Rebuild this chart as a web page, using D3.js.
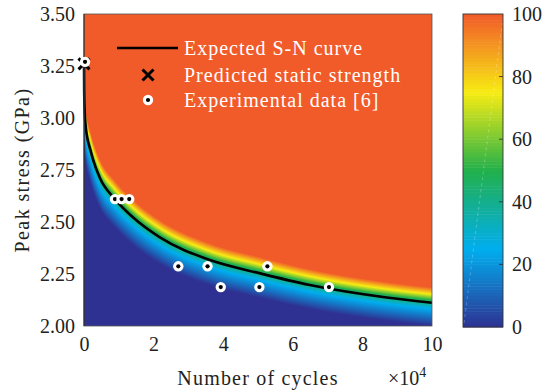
<!DOCTYPE html>
<html>
<head>
<meta charset="utf-8">
<script src="https://cdn.jsdelivr.net/npm/d3@7"></script>
<style>
  html, body { margin: 0; padding: 0; background: #fff; }
  svg { display: block; font-family: "Liberation Serif", "Times New Roman", serif; }
</style>
</head>
<body>
<div id="chart"></div>
<script>
// Expected S-N curve: cycles (x10^4) and peak stress (GPa)
const curveCycles = [0, 0.005, 0.02, 0.05, 0.10, 0.17, 0.26, 0.46, 0.89, 1.42, 2.18, 3.62, 5.06, 6.49, 8.70, 10.0];
const curveStress = [3.26, 3.13, 3.03, 2.96, 2.90, 2.855, 2.80, 2.71, 2.61, 2.52, 2.426, 2.317, 2.253, 2.197, 2.137, 2.112];

// Predicted static strength
const staticCycles = [0];
const staticStress = [3.26];

// Experimental data [6]
const expCycles = [0.03, 0.89, 1.08, 1.30, 2.71, 3.55, 5.27, 3.93, 5.04, 7.04];
const expStress = [3.27, 2.61, 2.61, 2.61, 2.287, 2.287, 2.287, 2.187, 2.187, 2.187];

// Axis ticks
const xTicks = [0, 2, 4, 6, 8, 10];
const yTicks = [2.00, 2.25, 2.50, 2.75, 3.00, 3.25, 3.50];
const cbTicks = [0, 20, 40, 60, 80, 100];

// Colour map stops (probability of failure, %)
const cmapLevels = [0, 25, 50, 75, 100];
const cmapColors = ["#2e3192", "#00aeef", "#22b04b", "#f7ec13", "#f15a29"];

// Probability band around the curve: relative stress offset (S - Sc) / Sc per level
const bandOffsets = [-0.052, -0.014, 0.006, 0.019, 0.035];

const W = 548, H = 392;
const plot = { left: 84, right: 432, top: 14, bottom: 326 };
const cbar = { left: 463, right: 503, top: 14, bottom: 327 };

const svg = d3.select("#chart").append("svg")
  .attr("width", W).attr("height", H);

const x = d3.scaleLinear().domain([0, 10]).range([plot.left, plot.right]);
const y = d3.scaleLinear().domain([2.0, 3.5]).range([plot.bottom, plot.top]);
const color = d3.scaleLinear().domain(cmapLevels).range(cmapColors).clamp(true);
const bandLevel = d3.scaleLinear().domain(bandOffsets).range(cmapLevels).clamp(true);

const curveData = curveCycles.map((c, i) => [c, curveStress[i]]);
const line = d3.line().x(d => x(d[0])).y(d => y(d[1])).curve(d3.curveMonotoneX);

// Field image sits under everything else
const fieldImage = svg.append("image");

const gCurve = svg.append("g");
const curvePath = gCurve.append("path")
  .datum(curveData)
  .attr("d", line)
  .attr("fill", "none")
  .attr("stroke", "#000")
  .attr("stroke-width", 2.6);

// Curve stress per pixel column, taken from the drawn path
const pw = plot.right - plot.left, ph = plot.bottom - plot.top;
const colY = new Array(pw).fill(-Infinity);
const node = curvePath.node();
const total = node.getTotalLength();
for (let l = 0; l <= total; l += 0.2) {
  const p = node.getPointAtLength(l);
  const ci = Math.min(pw - 1, Math.max(0, Math.floor(p.x - plot.left)));
  if (p.y > colY[ci]) colY[ci] = p.y;
}
for (let i = 1; i < pw; i++) if (!isFinite(colY[i])) colY[i] = colY[i - 1];

const canvas = document.createElement("canvas");
canvas.width = pw; canvas.height = ph;
const ctx = canvas.getContext("2d");
const img = ctx.createImageData(pw, ph);
for (let i = 0; i < pw; i++) {
  const sc = y.invert(colY[i]);
  for (let j = 0; j < ph; j++) {
    const s = y.invert(plot.top + j + 0.5);
    const c = d3.rgb(color(bandLevel((s - sc) / sc)));
    const k = (j * pw + i) * 4;
    img.data[k] = c.r; img.data[k + 1] = c.g; img.data[k + 2] = c.b; img.data[k + 3] = 255;
  }
}
ctx.putImageData(img, 0, 0);
fieldImage
  .attr("x", plot.left).attr("y", plot.top)
  .attr("width", pw).attr("height", ph)
  .attr("href", canvas.toDataURL());

// Plot frame
svg.append("rect")
  .attr("x", plot.left).attr("y", plot.top)
  .attr("width", pw).attr("height", ph)
  .attr("fill", "none").attr("stroke", "#555").attr("stroke-width", 0.8);
svg.append("line")
  .attr("x1", plot.left).attr("x2", plot.left)
  .attr("y1", plot.top).attr("y2", plot.bottom)
  .attr("stroke", "#222").attr("stroke-width", 1);

// Markers
function drawCross(g, cx, cy, r) {
  g.append("path")
    .attr("d", `M${cx - r},${cy - r}L${cx + r},${cy + r}M${cx - r},${cy + r}L${cx + r},${cy - r}`)
    .attr("stroke", "#000").attr("stroke-width", 3).attr("fill", "none");
}
function drawDot(g, cx, cy) {
  g.append("circle").attr("cx", cx).attr("cy", cy).attr("r", 5.2).attr("fill", "#fff");
  g.append("circle").attr("cx", cx).attr("cy", cy).attr("r", 2.1).attr("fill", "#000");
}

const gMarks = svg.append("g");
staticCycles.forEach((c, i) => drawCross(gMarks, x(c), y(staticStress[i]), 5.5));
expCycles.forEach((c, i) => drawDot(gMarks, x(c), y(expStress[i])));

// Axes (ticks sit under the field, so only labels show)
const fs = 20;
const xAxis = svg.append("g")
  .attr("transform", `translate(0,${plot.bottom})`)
  .call(d3.axisBottom(x).tickValues(xTicks).tickSize(0).tickPadding(11).tickFormat(d3.format("d")));
const yAxis = svg.append("g")
  .attr("transform", `translate(${plot.left},0)`)
  .call(d3.axisLeft(y).tickValues(yTicks).tickSize(0).tickPadding(9).tickFormat(d3.format(".2f")));
[xAxis, yAxis].forEach(a => {
  a.select(".domain").remove();
  a.selectAll("text").attr("font-size", fs).attr("font-family", "Liberation Serif").attr("fill", "#222");
});
xAxis.selectAll("text").attr("dy", "0.71em");

svg.append("text")
  .attr("x", 258).attr("y", 385)
  .attr("text-anchor", "middle")
  .attr("font-size", fs).attr("letter-spacing", 1.2).attr("fill", "#222")
  .text("Number of cycles");
const mult = svg.append("text")
  .attr("x", 388).attr("y", 385)
  .attr("font-size", fs).attr("fill", "#222");
mult.append("tspan").text("×10");
mult.append("tspan").attr("font-size", 14).attr("dy", -8).text("4");

svg.append("text")
  .attr("transform", `translate(29,${(plot.top + plot.bottom) / 2})rotate(-90)`)
  .attr("text-anchor", "middle")
  .attr("font-size", fs).attr("letter-spacing", 1.4).attr("fill", "#222")
  .text("Peak stress (GPa)");

// Legend
const lg = svg.append("g");
const lgX = 117, lgText = 184, rows = [48, 75, 100];
lg.append("line").attr("x1", lgX).attr("x2", lgX + 61).attr("y1", rows[0]).attr("y2", rows[0])
  .attr("stroke", "#000").attr("stroke-width", 2.6);
drawCross(lg, 148, rows[1], 5.5);
drawDot(lg, 148, rows[2]);
["Expected S-N curve", "Predicted static strength", "Experimental data [6]"].forEach((t, i) => {
  lg.append("text").attr("x", lgText).attr("y", rows[i]).attr("dy", "0.33em")
    .attr("font-size", fs).attr("letter-spacing", 1.0).attr("fill", "#fff").text(t);
});

// Colour bar
const cb = d3.scaleLinear().domain([0, 100]).range([cbar.bottom, cbar.top]);
const cells = d3.range(0, 100, 1);
svg.append("g").selectAll("rect").data(cells).join("rect")
  .attr("x", cbar.left).attr("width", cbar.right - cbar.left)
  .attr("y", d => cb(d + 1)).attr("height", d => cb(d) - cb(d + 1) + 0.5)
  .attr("fill", d => color(d + 0.5));
svg.append("line")
  .attr("x1", cbar.left + 1).attr("y1", cbar.bottom - 4)
  .attr("x2", cbar.right).attr("y2", cbar.top + 4)
  .attr("stroke", "#fff").attr("stroke-opacity", 0.35).attr("stroke-width", 0.7)
  .attr("stroke-dasharray", "3,3");
svg.append("rect")
  .attr("x", cbar.left).attr("y", cbar.top)
  .attr("width", cbar.right - cbar.left).attr("height", cbar.bottom - cbar.top)
  .attr("fill", "none").attr("stroke", "#333").attr("stroke-width", 0.9);
const cbAxis = svg.append("g")
  .attr("transform", `translate(${cbar.right},0)`)
  .call(d3.axisRight(cb).tickValues(cbTicks).tickSize(0).tickPadding(9).tickFormat(d3.format("d")));
cbAxis.select(".domain").remove();
cbAxis.selectAll("text").attr("font-size", fs).attr("font-family", "Liberation Serif").attr("fill", "#222");
svg.append("g").selectAll("line").data(cbTicks.filter(t => t > 0 && t < 100)).join("line")
  .attr("x1", cbar.right - 4).attr("x2", cbar.right)
  .attr("y1", d => cb(d)).attr("y2", d => cb(d))
  .attr("stroke", "#333").attr("stroke-width", 0.9);
</script>
</body>
</html>
